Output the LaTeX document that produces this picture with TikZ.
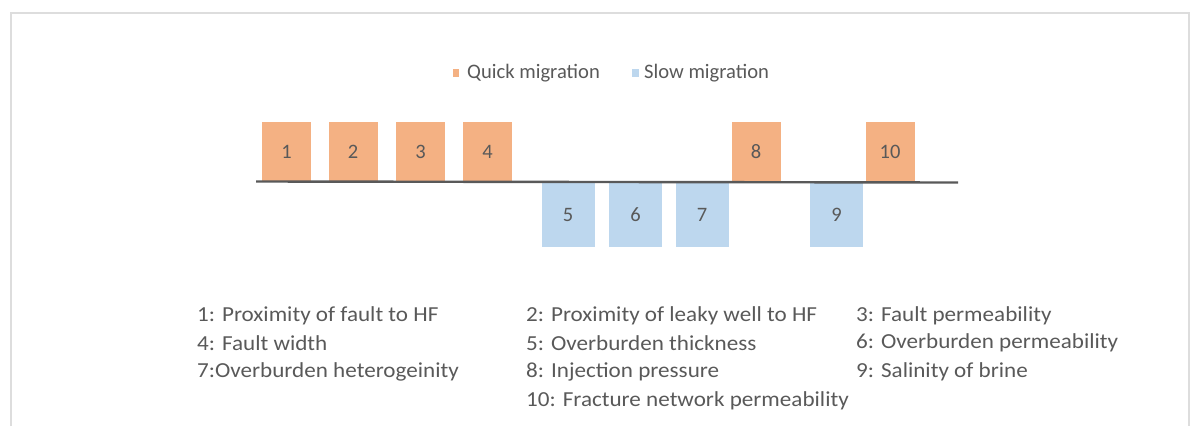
\documentclass[tikz,border=0pt]{standalone}
\usepackage{fontspec}
\setmainfont{Carlito}
\newfontfamily\widefont{Carlito}[FakeStretch=1.08]
\definecolor{quickcol}{HTML}{F4B183}
\definecolor{slowcol}{HTML}{BDD7EE}
\definecolor{txtcol}{HTML}{595959}
\definecolor{framecol}{HTML}{DDDDDD}
\tikzset{
  quickbox/.style={fill=quickcol, inner sep=0pt, minimum width=49pt, minimum height=59pt,
    text=txtcol, font=\fontsize{20.5}{22}\selectfont},
  slowbox/.style={fill=slowcol, inner sep=0pt, minimum width=53pt, minimum height=64pt,
    text=txtcol, font=\fontsize{20.5}{22}\selectfont},
  item/.style={anchor=west, inner sep=0pt, text=txtcol, font=\widefont\fontsize{21.4}{24}\selectfont},
  keytext/.style={anchor=west, inner sep=0pt, text=txtcol, font=\fontsize{20.6}{24}\selectfont}
}
\begin{document}
\begin{tikzpicture}[x=1pt, y=-1pt]
  \useasboundingbox (0,0) rectangle (1191,426);

  % Frame
  \draw[framecol, line width=2pt] (11,426) -- (11,13) -- (1189,13) -- (1189,426);

  % Legend
  \fill[quickcol] (453,69) rectangle (459,77);
  \node[keytext] (kq) at (467,73) {Quick migration};
  \fill[slowcol] (632,69) rectangle (639,77);
  \node[keytext] (ks) at (644,73) {Slow migration};

  % Boxes
  \node[quickbox] (b1) at (286.5,151.5) {1};
  \node[quickbox] (b2) at (353,151.5) {2};
  \node[quickbox] (b3) at (420.5,151.5) {3};
  \node[quickbox] (b4) at (487.5,151.5) {4};
  \node[slowbox] (b5) at (568,215) {5};
  \node[slowbox] (b6) at (635.5,215) {6};
  \node[slowbox] (b7) at (702,215) {7};
  \node[quickbox] (b8) at (756,151.5) {8};
  \node[slowbox] (b9) at (836.5,215) {9};
  \node[quickbox] (b10) at (890,151.5) {10};

  % Axis
  \draw[txtcol, line width=2.4pt] (256,181.5) -- (958,182.5);

  % Labels
  \node[item] (l1) at (197,316) {1: Proximity of fault to HF};
  \node[item] (l2) at (526,316) {2: Proximity of leaky well to HF};
  \node[item] (l3) at (856,316) {3: Fault permeability};
  \node[item] (l4) at (197,343) {4: Fault width};
  \node[item] (l5) at (526,343) {5: Overburden thickness};
  \node[item] (l6) at (856,343) {6: Overburden permeability};
  \node[item] (l7) at (197,372) {7:Overburden heterogeinity};
  \node[item] (l8) at (526,372) {8: Injection pressure};
  \node[item] (l9) at (856,372) {9: Salinity of brine};
  \node[item] (l10) at (526,401) {10: Fracture network permeability};
\end{tikzpicture}
\end{document}
